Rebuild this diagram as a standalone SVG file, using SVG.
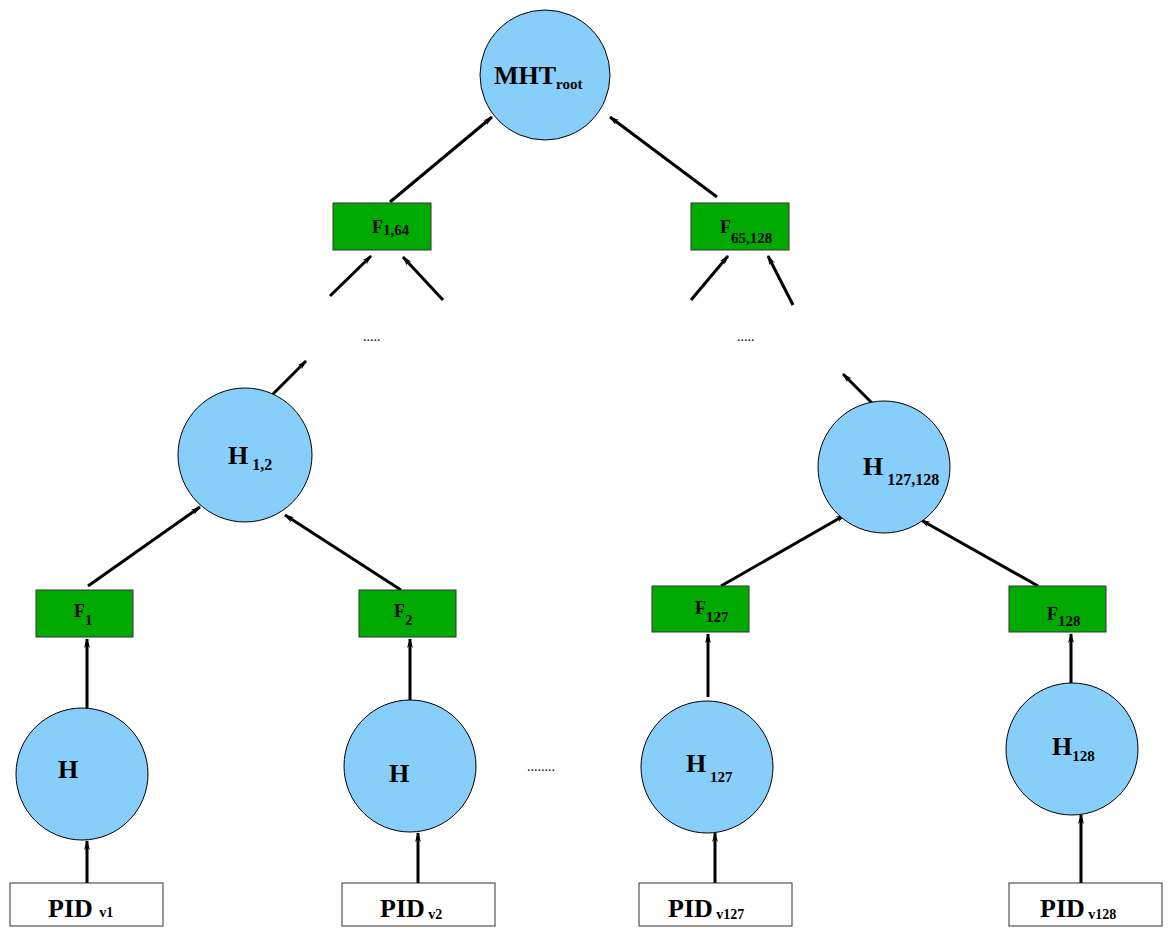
<svg xmlns="http://www.w3.org/2000/svg" width="1171" height="935" viewBox="0 0 1171 935">
<style>
.c{fill:#87cefa;stroke:#000;stroke-width:1}
.g{fill:#00aa00;stroke:#333;stroke-width:1}
.p{fill:#fff;stroke:#333;stroke-width:1}
.t{font-family:"Liberation Serif",serif;font-weight:bold;fill:#000}
.e{stroke:#000;stroke-width:3;fill:none;marker-end:url(#a)}
.d{font-family:"Liberation Serif",serif;font-size:14px}
</style>
<defs><marker id="a" markerWidth="10" markerHeight="8" refX="9" refY="4" orient="auto" markerUnits="userSpaceOnUse"><path d="M0,1 L10,4 L0,7 L3,4 Z" fill="#000"/></marker></defs>
<g id="connectors">
<line class="e" x1="390" y1="202" x2="492" y2="117"/>
<line class="e" x1="717" y1="197" x2="610" y2="117"/>
<line class="e" x1="330" y1="296" x2="371" y2="256"/>
<line class="e" x1="443" y1="300" x2="403" y2="257"/>
<line class="e" x1="691" y1="300" x2="728" y2="256"/>
<line class="e" x1="793" y1="305" x2="768" y2="256"/>
<line class="e" x1="272" y1="395" x2="306" y2="361"/>
<line class="e" x1="873" y1="404" x2="843" y2="374"/>
<line class="e" x1="88" y1="586" x2="200" y2="507"/>
<line class="e" x1="401" y1="590" x2="285" y2="515"/>
<line class="e" x1="721" y1="586" x2="845" y2="515"/>
<line class="e" x1="1038" y1="586" x2="921" y2="520"/>
<line class="e" x1="87" y1="710" x2="87" y2="639"/>
<line class="e" x1="410" y1="700" x2="410" y2="639"/>
<line class="e" x1="708" y1="697" x2="708" y2="634"/>
<line class="e" x1="1071" y1="683" x2="1071" y2="634"/>
<line class="e" x1="87" y1="883" x2="87" y2="841"/>
<line class="e" x1="418" y1="883" x2="418" y2="833"/>
<line class="e" x1="715" y1="883" x2="715" y2="833"/>
<line class="e" x1="1081" y1="883" x2="1081" y2="815"/>
</g>
<g id="root"><circle class="c" cx="545" cy="75" r="65"/><text class="t" x="494" y="84" font-size="26">MHT<tspan font-size="15" dy="5">root</tspan></text></g>
<g id="f164"><rect class="g" x="333" y="203" width="98" height="47"/><text class="t" x="372" y="233" font-size="18">F<tspan font-size="15" dy="2">1,64</tspan></text></g>
<g id="f65128"><rect class="g" x="691" y="203" width="98" height="47"/><text class="t" x="720" y="233" font-size="18">F<tspan font-size="15" dy="10">65,128</tspan></text></g>
<text class="d" x="363" y="341">.....</text>
<text class="d" x="737" y="341">.....</text>
<text class="d" x="527" y="771">........</text>
<g id="h12"><circle class="c" cx="245" cy="455" r="67"/><text class="t" x="228" y="464" font-size="26">H<tspan font-size="16" dy="6"> 1,2</tspan></text></g>
<g id="h127128"><circle class="c" cx="884" cy="467" r="66"/><text class="t" x="863" y="475" font-size="26">H<tspan font-size="16" dy="10"> 127,128</tspan></text></g>
<g id="f1"><rect class="g" x="36" y="590" width="97" height="47"/><text class="t" x="74" y="617" font-size="18">F<tspan font-size="15" dy="8">1</tspan></text></g>
<g id="f2"><rect class="g" x="359" y="590" width="97" height="47"/><text class="t" x="394" y="617" font-size="18">F<tspan font-size="15" dy="8">2</tspan></text></g>
<g id="f127"><rect class="g" x="652" y="586" width="97" height="46"/><text class="t" x="695" y="614" font-size="18">F<tspan font-size="15" dy="8">127</tspan></text></g>
<g id="f128"><rect class="g" x="1009" y="586" width="97" height="46"/><text class="t" x="1047" y="620" font-size="18">F<tspan font-size="15" dy="6">128</tspan></text></g>
<g id="h1"><circle class="c" cx="82" cy="774" r="66"/><text class="t" x="58" y="778" font-size="26">H</text></g>
<g id="h2"><circle class="c" cx="410" cy="766" r="66"/><text class="t" x="389" y="782" font-size="26">H</text></g>
<g id="h127"><circle class="c" cx="707" cy="767" r="66"/><text class="t" x="686" y="772" font-size="26">H<tspan font-size="15" dy="10"> 127</tspan></text></g>
<g id="h128"><circle class="c" cx="1072" cy="749" r="66"/><text class="t" x="1052" y="755" font-size="26">H<tspan font-size="15" dy="6">128</tspan></text></g>
<g id="pid1"><rect class="p" x="10" y="883" width="153" height="43"/><text class="t" x="48" y="917" font-size="26">PID <tspan font-size="14">v1</tspan></text></g>
<g id="pid2"><rect class="p" x="342" y="883" width="153" height="43"/><text class="t" x="380" y="917" font-size="26">PID<tspan font-size="14" dy="2"> v2</tspan></text></g>
<g id="pid127"><rect class="p" x="639" y="883" width="153" height="43"/><text class="t" x="668" y="917" font-size="26">PID<tspan font-size="14" dy="2"> v127</tspan></text></g>
<g id="pid128"><rect class="p" x="1009" y="883" width="153" height="43"/><text class="t" x="1040" y="917" font-size="26">PID<tspan font-size="14" dy="2"> v128</tspan></text></g>
</svg>
